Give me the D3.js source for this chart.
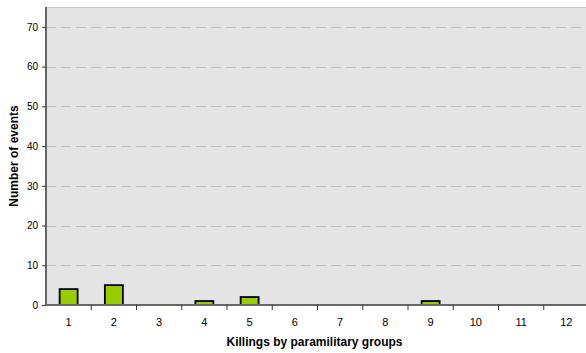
<!DOCTYPE html>
<html><head><meta charset="utf-8">
<script src="https://cdnjs.cloudflare.com/ajax/libs/d3/7.8.5/d3.min.js"></script>
<style>body{margin:0;background:#fff}svg{display:block}</style>
</head><body><svg id="c" width="586" height="353"></svg>
<script>
const categories = ["1","2","3","4","5","6","7","8","9","10","11","12"];
const values = [4,5,0,1,2,0,0,0,1,0,0,0];
const yTicks = [0,10,20,30,40,50,60,70];
const xTitle = "Killings by paramilitary groups";
const yTitle = "Number of events";

const svg = d3.select("#c");
const m = {l:46, t:7, r:589, b:305};
const x = d3.scaleBand().domain(categories).range([m.l, m.r]).paddingInner(0).paddingOuter(0);
const y = d3.scaleLinear().domain([0,75]).range([m.b, m.t]);
const font = "Liberation Sans, Arial, sans-serif";

svg.append("rect").attr("x",m.l).attr("y",m.t).attr("width",m.r-m.l).attr("height",m.b-m.t).attr("fill","#e4e4e4");
svg.append("line").attr("x1",m.l).attr("x2",m.r).attr("y1",m.t+0.5).attr("y2",m.t+0.5).attr("stroke","#c8c8c8");

svg.append("g").selectAll("line").data(yTicks.filter(d=>d>0)).join("line")
  .attr("x1",m.l).attr("x2",m.r).attr("y1",d=>Math.round(y(d))+0.5).attr("y2",d=>Math.round(y(d))+0.5)
  .attr("stroke","#c0c0c0").attr("stroke-dasharray","10,5");

const bw = 18;
svg.append("g").selectAll("rect").data(values.map((v,i)=>({c:categories[i],v}))).join("rect")
  .filter(d=>d.v>0)
  .attr("x",d=>x(d.c)+x.bandwidth()/2-bw/2).attr("width",bw)
  .attr("y",d=>y(d.v)).attr("height",d=>y(0)-y(d.v))
  .attr("fill","#99cc00").attr("stroke","#000").attr("stroke-width",1.8);

// y axis
const ya = svg.append("g").attr("transform",`translate(${m.l},0)`)
  .call(d3.axisLeft(y).tickValues(yTicks).tickSize(4).tickPadding(4));
ya.select(".domain").attr("stroke","#666").attr("stroke-width",2).attr("d",`M0,${m.t}V${m.b}`);
ya.selectAll(".tick line").attr("stroke","#333");
ya.selectAll("text").attr("font-family",font).attr("font-size",10).attr("fill","#000");

// x axis
const xa = svg.append("g").attr("transform",`translate(0,${m.b})`)
  .call(d3.axisBottom(x).tickSize(0).tickPadding(13));
xa.select(".domain").attr("stroke","#666").attr("stroke-width",2).attr("d",`M${m.l},0H${m.r}`);
xa.selectAll("text").attr("font-family",font).attr("font-size",11).attr("fill","#000");
xa.selectAll(".bt").data(categories.slice(1)).join("line").attr("class","bt")
  .attr("x1",d=>x(d)).attr("x2",d=>x(d)).attr("y1",0).attr("y2",5).attr("stroke","#333");

svg.append("text").attr("x",(m.l+m.r)/2 - 3).attr("y",346).attr("text-anchor","middle")
  .attr("font-family",font).attr("font-weight","bold").attr("font-size",12).text(xTitle);
svg.append("text").attr("transform",`translate(18,${(m.t+m.b)/2}) rotate(-90)`).attr("text-anchor","middle")
  .attr("font-family",font).attr("font-weight","bold").attr("font-size",12).text(yTitle);
</script></body></html>
